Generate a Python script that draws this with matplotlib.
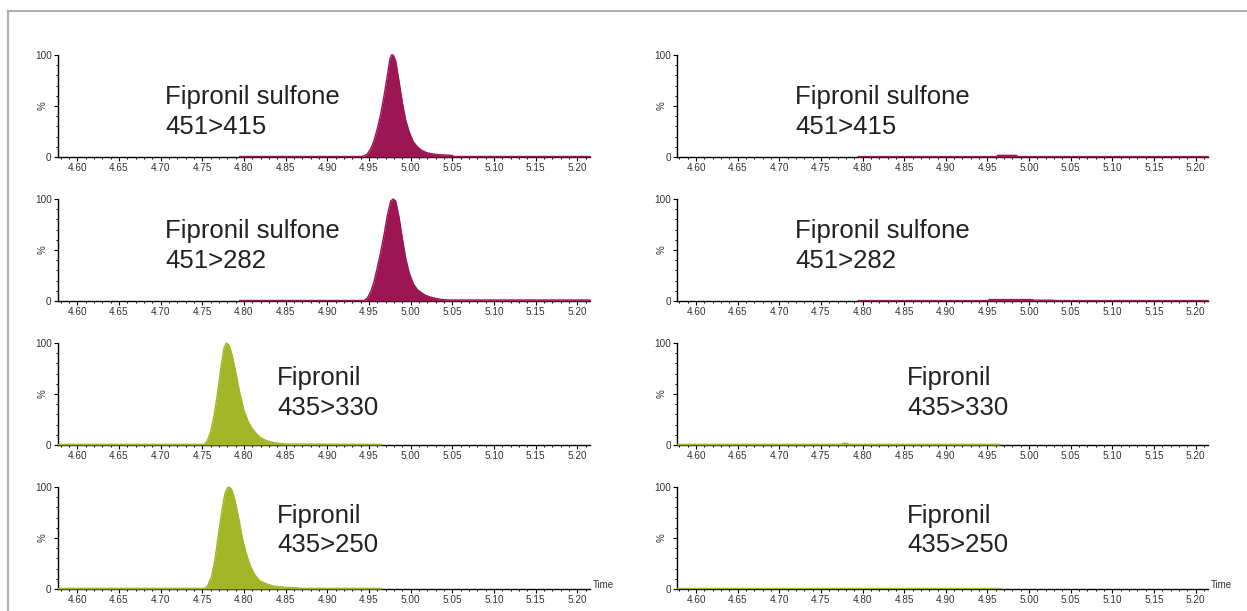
import matplotlib
matplotlib.use('Agg')
import matplotlib.pyplot as plt
from matplotlib.ticker import MultipleLocator, FixedLocator
from matplotlib.lines import Line2D

plt.rcParams.update({'font.family': ['Liberation Sans', 'DejaVu Sans']})

# colores de las trazas
col_sulf = '#9b1652'
col_fip = '#a2b628'

# Fipronil sulfone 451>415 (muestra)
t_s415 = [4.795, 4.940, 4.944, 4.948, 4.952, 4.956, 4.960, 4.964, 4.968, 4.972, 4.975, 4.977,
          4.979, 4.982, 4.986, 4.990, 4.994, 4.998, 5.003, 5.008, 5.013, 5.020, 5.030, 5.040,
          5.050, 5.052, 5.215]
i_s415 = [0.5, 0.5, 1, 3, 8, 16, 28, 42, 60, 80, 96, 100,
          100, 94, 74, 53, 36, 25, 15, 10, 6.5, 4, 2.5, 2,
          1.5, 0.5, 0.5]

# Fipronil sulfone 451>282 (muestra)
t_s282 = [4.795, 4.944, 4.948, 4.952, 4.956, 4.960, 4.964, 4.968, 4.972, 4.976, 4.979, 4.982,
          4.986, 4.990, 4.994, 4.998, 5.003, 5.008, 5.013, 5.018, 5.023, 5.030, 5.037, 5.045, 5.215]
i_s282 = [0.5, 0.5, 3, 9, 19, 33, 48, 65, 84, 98, 100, 98,
          82, 61, 42, 28, 17, 11, 8, 5.5, 4, 2.5, 1.5, 1, 1]

# Fipronil 435>330 (muestra)
t_f330 = [4.577, 4.752, 4.756, 4.760, 4.764, 4.768, 4.772, 4.776, 4.779, 4.782, 4.786, 4.790,
          4.795, 4.800, 4.805, 4.810, 4.815, 4.820, 4.828, 4.835, 4.843, 4.850, 4.965]
i_f330 = [0.6, 0.6, 4, 13, 28, 49, 74, 95, 100, 98, 88, 72,
          51, 34, 23, 16, 11, 7, 4, 2.5, 1.5, 1, 0.6]

# Fipronil 435>250 (muestra)
t_f250 = [4.577, 4.753, 4.757, 4.761, 4.765, 4.769, 4.773, 4.777, 4.780, 4.782, 4.785, 4.789,
          4.794, 4.798, 4.803, 4.808, 4.813, 4.819, 4.827, 4.835, 4.845, 4.864, 4.870, 4.965]
i_f250 = [0.6, 0.6, 4, 12, 28, 51, 74, 93, 99, 100, 98, 88,
          68, 50, 34, 22, 14, 8, 5, 3, 2, 1, 0.6, 0.6]

# blanco (columna derecha)
t_b415 = [4.795, 4.961, 4.962, 4.985, 4.986, 5.215]
i_b415 = [0.4, 0.4, 1.6, 1.6, 0.4, 0.4]
t_b282 = [4.795, 4.951, 4.952, 5.004, 5.005, 5.030, 5.031, 5.215]
i_b282 = [0.4, 0.4, 1.4, 1.4, 0.8, 0.8, 0.4, 0.4]
t_b330 = [4.577, 4.774, 4.776, 4.779, 4.782, 4.784, 4.965]
i_b330 = [0.6, 0.6, 1.4, 1.8, 1.4, 0.6, 0.6]
t_b250 = [4.577, 4.965]
i_b250 = [0.6, 0.6]

names = ['Fipronil sulfone\n451>415', 'Fipronil sulfone\n451>282',
         'Fipronil\n435>330', 'Fipronil\n435>250']
left_data = [(t_s415, i_s415, col_sulf), (t_s282, i_s282, col_sulf),
             (t_f330, i_f330, col_fip), (t_f250, i_f250, col_fip)]
right_data = [(t_b415, i_b415, col_sulf), (t_b282, i_b282, col_sulf),
              (t_b330, i_b330, col_fip), (t_b250, i_b250, col_fip)]

W, H = 1247, 611
fig = plt.figure(figsize=(W / 100, H / 100), dpi=100)

# marco gris
fig.add_artist(Line2D([8 / W, 8 / W], [0, 1 - 11 / H], color='#b0b0b0', lw=1.5))
fig.add_artist(Line2D([8 / W, 1], [1 - 11 / H, 1 - 11 / H], color='#b0b0b0', lw=1.5))

row_bottom = [157, 301, 445, 589]
col_left = [(58, 590), (677, 1208)]
# posicion de las etiquetas (fraccion de ejes)
lab_pos_left = [(0.201, 0.44), (0.201, 0.54), (0.412, 0.51), (0.412, 0.575)]
lab_pos_right = [(0.222, 0.44), (0.222, 0.54), (0.433, 0.51), (0.433, 0.575)]

for c, (x0, x1) in enumerate(col_left):
    datos = left_data if c == 0 else right_data
    pos = lab_pos_left if c == 0 else lab_pos_right
    for r in range(4):
        yb = row_bottom[r]
        ax = fig.add_axes([x0 / W, 1 - yb / H, (x1 - x0) / W, 102 / H])
        t, i, col = datos[r]
        ax.fill_between(t, 0, i, color=col, lw=0, zorder=3)
        ax.plot(t, i, color=col, lw=1.0, zorder=4, clip_on=False)
        ax.set_xlim(4.577, 5.215)
        ax.set_ylim(0, 100)
        for s in ['top', 'right']:
            ax.spines[s].set_visible(False)
        ax.spines['left'].set_linewidth(1.0)
        ax.spines['bottom'].set_linewidth(1.0)
        ax.xaxis.set_major_locator(FixedLocator([4.60 + 0.05 * k for k in range(13)]))
        ax.xaxis.set_minor_locator(MultipleLocator(0.01))
        ax.set_yticks([0, 50, 100])
        ax.set_yticklabels(['0', '', '100'])
        ax.yaxis.set_minor_locator(MultipleLocator(10))
        ax.tick_params(axis='both', which='major', length=3, width=0.8, pad=1.5,
                       labelsize=7.2, labelcolor='#333333')
        ax.tick_params(axis='both', which='minor', length=1.5, width=0.7)
        ax.set_xticklabels(['%.2f' % (4.60 + 0.05 * k) for k in range(13)])
        ax.set_ylabel('%', fontsize=7, color='#333333')
        ax.yaxis.set_label_coords(-0.02, 0.5)
        ax.text(pos[r][0], pos[r][1], names[r], transform=ax.transAxes,
                fontsize=18.5, color='#222222', ha='left', va='center', linespacing=1.3)
        if r == 3:
            ax.text(1.005, 0.04, 'Time', transform=ax.transAxes, fontsize=7,
                    color='#333333', ha='left', va='center')

plt.savefig('out.png', dpi=100)
